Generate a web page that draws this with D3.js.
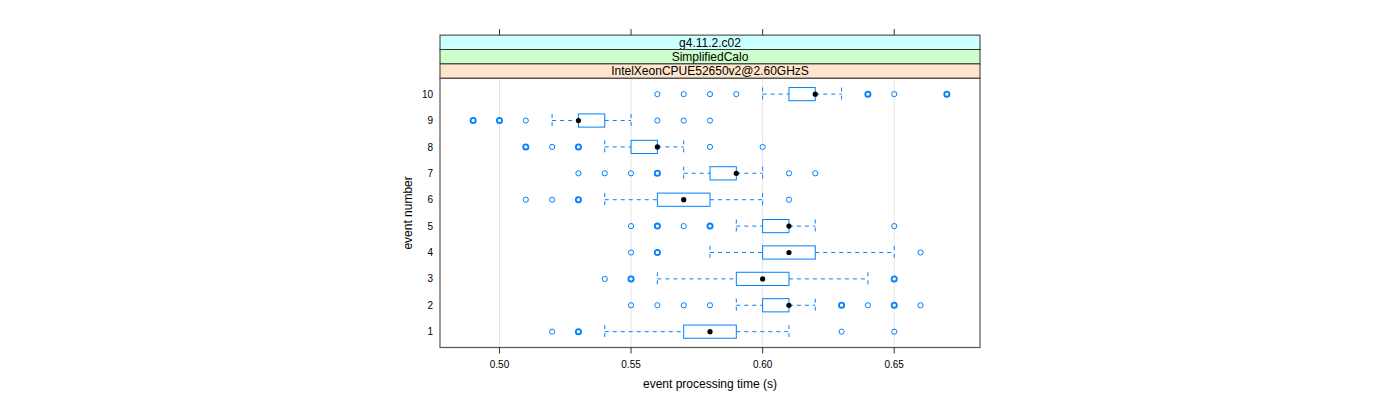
<!DOCTYPE html>
<html><head><meta charset="utf-8">
<script src="https://cdn.jsdelivr.net/npm/d3@7"></script>
<style>body{margin:0;background:#fff;} text{font-family:"Liberation Sans",Arial,sans-serif;}</style>
</head><body><svg id="c" width="1400" height="400"></svg>
<script>
const events = [1,2,3,4,5,6,7,8,9,10];
const lowerWhisker = [0.54,0.59,0.56,0.58,0.59,0.54,0.57,0.54,0.52,0.60];
const q1           = [0.57,0.60,0.59,0.60,0.60,0.56,0.58,0.55,0.53,0.61];
const median       = [0.58,0.61,0.60,0.61,0.61,0.57,0.59,0.56,0.53,0.62];
const q3           = [0.59,0.61,0.61,0.62,0.61,0.58,0.59,0.56,0.54,0.62];
const upperWhisker = [0.61,0.62,0.64,0.65,0.62,0.60,0.60,0.57,0.55,0.63];
// outliers (repeated values = overlapping points)
const outliers = [
  [0.52,0.53,0.53,0.63,0.65],
  [0.55,0.56,0.57,0.58,0.63,0.63,0.64,0.65,0.65,0.66],
  [0.54,0.55,0.55,0.65,0.65],
  [0.55,0.56,0.56,0.66],
  [0.55,0.56,0.56,0.57,0.58,0.58,0.65],
  [0.51,0.52,0.53,0.53,0.61],
  [0.53,0.54,0.55,0.56,0.56,0.61,0.62],
  [0.51,0.51,0.52,0.53,0.53,0.58,0.60],
  [0.49,0.49,0.50,0.50,0.51,0.56,0.57,0.58],
  [0.56,0.57,0.58,0.59,0.64,0.64,0.65,0.67,0.67]
];
const xTicks = [0.50,0.55,0.60,0.65];
const strips = ["g4.11.2.c02","SimplifiedCalo","IntelXeonCPUE52650v2@2.60GHzS"];
const stripColors = ["#ccffff","#ccffcc","#ffe5cc"];

const svg = d3.select("#c");
const L = 440, R = 980, T = 78.3, B = 347.5;
const x = d3.scaleLinear().domain([0.49-0.0126, 0.67+0.0126]).range([L, R]);
const y = d3.scaleLinear().domain([0.4, 10.6]).range([B, T]);
const blue = "#0080ff";
const bh = (y(0) - y(1)) * 0.5 / 2;

// grid
svg.append("g").selectAll("line").data(xTicks).join("line")
  .attr("x1", d => x(d)).attr("x2", d => x(d)).attr("y1", T).attr("y2", B)
  .attr("stroke", "#e6e6e6").attr("stroke-width", 1);

// strips
const sh = 14.4;
strips.forEach((s, i) => {
  const top = T - sh * (strips.length - i);
  svg.append("rect").attr("x", L).attr("y", top).attr("width", R - L).attr("height", sh)
    .attr("fill", stripColors[i]).attr("stroke", "#333").attr("stroke-width", 1);
  svg.append("text").attr("x", (L + R) / 2).attr("y", top + sh / 2 + 4.3)
    .attr("text-anchor", "middle").attr("font-size", 12).attr("fill", "#000").text(s);
});

// boxes
const g = svg.append("g");
events.forEach((e, i) => {
  const cy = y(e);
  g.append("line").attr("x1", x(lowerWhisker[i])).attr("x2", x(q1[i])).attr("y1", cy).attr("y2", cy)
    .attr("stroke", blue).attr("stroke-dasharray", "4,4");
  g.append("line").attr("x1", x(q3[i])).attr("x2", x(upperWhisker[i])).attr("y1", cy).attr("y2", cy)
    .attr("stroke", blue).attr("stroke-dasharray", "4,4");
  [lowerWhisker[i], upperWhisker[i]].forEach(v => {
    g.append("line").attr("x1", x(v)).attr("x2", x(v)).attr("y1", cy - bh).attr("y2", cy + bh)
      .attr("stroke", blue).attr("stroke-dasharray", "4,4");
  });
  g.append("rect").attr("x", x(q1[i])).attr("y", cy - bh).attr("width", x(q3[i]) - x(q1[i]))
    .attr("height", 2 * bh).attr("fill", "none").attr("stroke", blue).attr("stroke-width", 1);
  const counts = d3.rollups(outliers[i], v => v.length, v => v);
  counts.forEach(([v, n]) => {
    g.append("circle").attr("cx", x(v)).attr("cy", cy).attr("r", 2.6)
      .attr("fill", "none").attr("stroke", blue).attr("stroke-width", n > 1 ? 1.8 : 1);
  });
  g.append("circle").attr("cx", x(median[i])).attr("cy", cy).attr("r", 2.6).attr("fill", "#000");
});

// panel border
svg.append("rect").attr("x", L).attr("y", T).attr("width", R - L).attr("height", B - T)
  .attr("fill", "none").attr("stroke", "#555").attr("stroke-width", 1.2);

// bottom axis
const xb = svg.append("g");
xTicks.forEach(t => {
  xb.append("line").attr("x1", x(t)).attr("x2", x(t)).attr("y1", B).attr("y2", B + 6).attr("stroke", "#333");
  xb.append("text").attr("x", x(t)).attr("y", B + 20).attr("text-anchor", "middle")
    .attr("font-size", 10).text(d3.format(".2f")(t));
  xb.append("line").attr("x1", x(t)).attr("x2", x(t)).attr("y1", T - sh * 3).attr("y2", T - sh * 3 - 6).attr("stroke", "#333");
});
// left axis labels
events.forEach(e => {
  svg.append("text").attr("x", L - 7).attr("y", y(e) + 3.6).attr("text-anchor", "end")
    .attr("font-size", 10).text(e);
});
svg.append("text").attr("x", (L + R) / 2).attr("y", 388).attr("text-anchor", "middle")
  .attr("font-size", 12).text("event processing time (s)");
svg.append("text").attr("transform", `translate(412,${(T + B) / 2}) rotate(-90)`)
  .attr("text-anchor", "middle").attr("font-size", 12).text("event number");
</script></body></html>
